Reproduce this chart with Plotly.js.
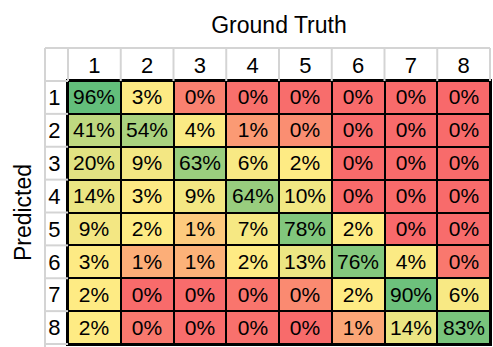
<!DOCTYPE html>
<html>
<head>
<meta charset="utf-8">
<script src="https://cdn.plot.ly/plotly-3.0.1.min.js"></script>
<style>html,body{margin:0;padding:0;background:#fff;}#chart{width:493px;height:347px;}</style>
</head>
<body>
<div id="chart"></div>
<script>
// Ground truth classes (columns) and predicted classes (rows)
var groundTruthLabels = ["1","2","3","4","5","6","7","8"];
var predictedLabels = ["1","2","3","4","5","6","7","8"];

// Percentages per predicted row (estimated underlying values; shown rounded)
var row1 = [96.2, 3, 0.3, 0.08, 0.05, 0.03, 0.02, 0];
var row2 = [41, 54, 4, 0.6, 0.45, 0.04, 0.02, 0.03];
var row3 = [20, 9, 63, 6, 2, 0.02, 0.02, 0.02];
var row4 = [14, 3, 9, 64, 10, 0.02, 0.03, 0.02];
var row5 = [9, 2, 1.2, 7, 78, 2, 0, 0.04];
var row6 = [3, 0.85, 0.9, 2, 13, 76, 4, 0.18];
var row7 = [2, 0.03, 0.04, 0.15, 0.4, 2, 90, 6];
var row8 = [2, 0.2, 0.05, 0.1, 0.03, 0.75, 14, 83];

var z = [row1, row2, row3, row4, row5, row6, row7, row8];
var text = z.map(function(r){ return r.map(function(v){ return Math.round(v) + "%"; }); });

// Excel-like 3-colour scale: min red, 50th percentile yellow, max green
var flat = [].concat.apply([], z).slice().sort(function(a,b){return a-b;});
var zmin = flat[0], zmax = flat[flat.length-1];
var pos = 0.5 * (flat.length - 1);
var lo = Math.floor(pos), hi = Math.ceil(pos);
var median = flat[lo] + (flat[hi] - flat[lo]) * (pos - lo);
var midFrac = (median - zmin) / (zmax - zmin);

var W = 493, H = 347;
var mL = 68, mR = 3, mT = 81, mB = 3;
var pw = W - mL - mR, ph = H - mT - mB;
function px(x){ return (x - mL) / pw; }
function py(y){ return (H - mB - y) / ph; }

var grey = "#D4D4D4";
var shapes = [];
var headerTop = 48, leftEdge = 45;
// top header border
shapes.push({type:"line", xref:"paper", yref:"paper", x0:px(leftEdge), x1:1, y0:py(headerTop), y1:py(headerTop), line:{color:grey, width:2}});
// left column outer border
shapes.push({type:"line", xref:"paper", yref:"paper", x0:px(leftEdge), x1:px(leftEdge), y0:py(headerTop), y1:py(H), line:{color:grey, width:2}});
var n = groundTruthLabels.length;
for (var k = 0; k <= n; k++) {
  shapes.push({type:"line", xref:"paper", yref:"paper", x0:k/n, x1:k/n, y0:1, y1:py(headerTop), line:{color:grey, width:2}});
}
var m = predictedLabels.length;
for (var k2 = 0; k2 <= m; k2++) {
  shapes.push({type:"line", xref:"paper", yref:"paper", x0:px(leftEdge), x1:0, y0:1 - k2/m, y1:1 - k2/m, line:{color:grey, width:2}});
}

var font = "Liberation Sans, Arial, sans-serif";
var fs = 22;

var trace = {
  type: "heatmap",
  x: groundTruthLabels,
  y: predictedLabels,
  z: z,
  zmin: zmin,
  zmax: zmax,
  colorscale: [[0, "#F8696B"], [midFrac, "#FFEB84"], [1, "#63BE7B"]],
  showscale: false,
  xgap: 2,
  ygap: 2,
  text: text,
  texttemplate: "%{text}",
  textfont: {family: font, size: 21, color: "#000"},
  hoverinfo: "skip"
};

var layout = {
  width: W, height: H,
  margin: {l: mL, r: mR, t: mT, b: mB, pad: 0},
  paper_bgcolor: "#fff",
  plot_bgcolor: "#000",
  font: {family: font, size: fs, color: "#000"},
  xaxis: {
    type: "category", side: "top", showgrid: false, zeroline: false,
    showline: true, mirror: true, linecolor: "#000", linewidth: 2,
    ticks: "", ticklabelstandoff: -3, automargin: false,
    tickfont: {family: font, size: fs, color: "#000"},
    title: {text: "Ground Truth", font: {family: font, size: 23, color: "#000"}, standoff: 13}
  },
  yaxis: {
    type: "category", autorange: "reversed", showgrid: false, zeroline: false,
    showline: true, mirror: true, linecolor: "#000", linewidth: 2,
    ticks: "", ticklabelstandoff: 1, automargin: false,
    tickfont: {family: font, size: fs, color: "#000"},
    title: {text: "Predicted", font: {family: font, size: 23, color: "#000"}, standoff: 10}
  },
  shapes: shapes
};

Plotly.newPlot("chart", [trace], layout, {displayModeBar: false, staticPlot: true});
</script>
</body>
</html>
